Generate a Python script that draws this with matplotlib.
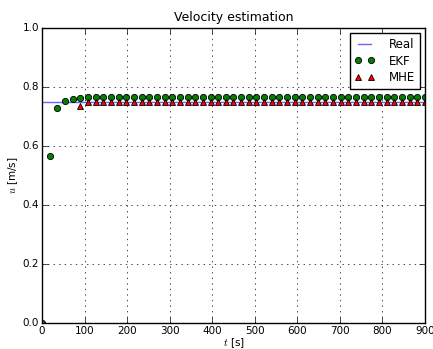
import numpy as np
import matplotlib
matplotlib.use("Agg")
import matplotlib.pyplot as plt

plt.style.use("classic")

# Sample times [s]
t = np.arange(0, 901, 18)

# True velocity
u_real = [0.75] * len(t)

# EKF estimate
ekf_head = [0.0, 0.566, 0.728, 0.7525, 0.758, 0.7637]
u_ekf = ekf_head + [0.765] * (len(t) - len(ekf_head))

# MHE estimate (available from t = 90 s)
t_mhe = t[5:]
u_mhe = [0.7356] + [0.750] * (len(t_mhe) - 1)

fig = plt.figure(figsize=(4.33, 3.49), dpi=100)
ax = fig.add_axes([42 / 433, 26 / 349, (425 - 42) / 433, (323 - 28) / 349])

ax.plot(t, u_real, "-", color="#3333ff", alpha=0.75, lw=1.0, label="Real")
ax.plot(t, u_ekf, "o", color="green", markeredgecolor="black", markersize=4.5,
        markeredgewidth=0.6, label="EKF")
ax.plot(t_mhe, u_mhe, "^", color="red", markeredgecolor="black", markersize=4.5,
        markeredgewidth=0.6, label="MHE")

ax.set_xlim(0, 900)
ax.set_ylim(0, 1.0)
ax.set_xticks(np.arange(0, 901, 100))
ax.set_yticks(np.arange(0, 1.01, 0.2))
ax.tick_params(labelsize=7.5, pad=2)
ax.grid(True)

ax.set_title("Velocity estimation", fontsize=9)
ax.set_xlabel("$t$ [s]", fontsize=7.5, labelpad=0)
ax.set_ylabel("$u$ [m/s]", fontsize=7.5, labelpad=2)

leg = ax.legend(loc="upper right", numpoints=2, fontsize=8.5, borderaxespad=0.45,
                labelspacing=0.3, handlelength=1.7, handletextpad=1.2,
                borderpad=0.4)

fig.savefig("out.png", dpi=100)
